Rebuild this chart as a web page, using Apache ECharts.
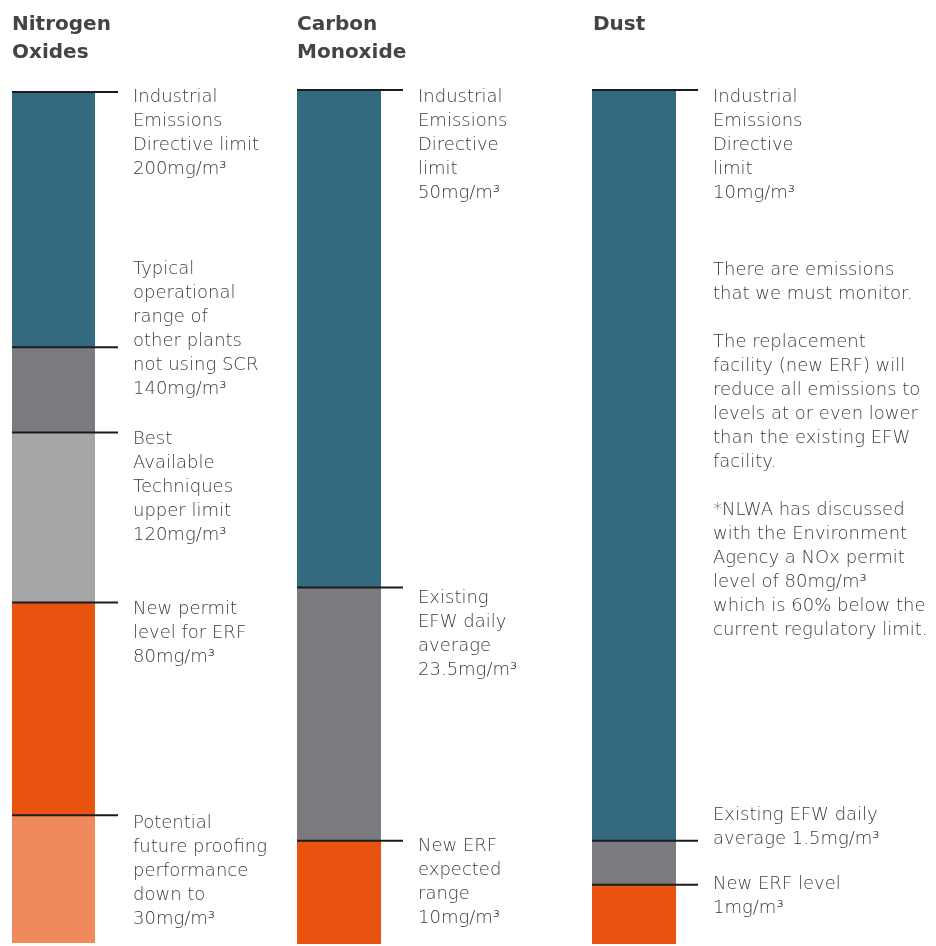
<!DOCTYPE html>
<html>
<head>
<meta charset="utf-8">
<script src="https://cdn.jsdelivr.net/npm/echarts@6/dist/echarts.min.js"></script>
<style>
  html, body { margin: 0; padding: 0; background: #ffffff; }
  #chart { width: 936px; height: 946px; }
</style>
</head>
<body>
<div id="chart"></div>
<script>
// Emission levels (mg/m³), listed from the top of each column downwards.
const noxLevels = [200, 140, 120, 80, 30];
const coLevels = [50, 23.5, 10];
const dustLevels = [10, 1.5, 1];

const noxLabels = [
  'Industrial\nEmissions\nDirective limit\n200mg/m³',
  'Typical\noperational\nrange of\nother plants\nnot using SCR\n140mg/m³',
  'Best\nAvailable\nTechniques\nupper limit\n120mg/m³',
  'New permit\nlevel for ERF\n80mg/m³',
  'Potential\nfuture proofing\nperformance\ndown to\n30mg/m³'
];
const coLabels = [
  'Industrial\nEmissions\nDirective\nlimit\n50mg/m³',
  'Existing\nEFW daily\naverage\n23.5mg/m³',
  'New ERF\nexpected\nrange\n10mg/m³'
];
const dustLabels = [
  'Industrial\nEmissions\nDirective\nlimit\n10mg/m³',
  'Existing EFW daily\naverage 1.5mg/m³',
  'New ERF level\n1mg/m³'
];

const columnTitles = ['Nitrogen\nOxides', 'Carbon\nMonoxide', 'Dust'];

const dustNote =
  'There are emissions\nthat we must monitor.\n\n' +
  'The replacement\nfacility (new ERF) will\nreduce all emissions to\nlevels at or even lower\nthan the existing EFW\nfacility.\n\n' +
  '*NLWA has discussed\nwith the Environment\nAgency a NOx permit\nlevel of 80mg/m³\nwhich is 60% below the\ncurrent regulatory limit.';

// ---- styling ----
const TEAL = '#336a80', DARK_GREY = '#7b7b7f', LIGHT_GREY = '#a6a6a6',
      ORANGE = '#e8540f', LIGHT_ORANGE = '#f08a5c';
const TEXT_COLOR = '#3c3c3c';
const TITLE_COLOR = '#444444';
const FONT = '"DejaVu Sans", "Liberation Sans", sans-serif';
const BODY_FONT = '300 18px ' + FONT;

const columns = [
  { levels: noxLevels, labels: noxLabels, colors: [TEAL, DARK_GREY, LIGHT_GREY, ORANGE, LIGHT_ORANGE],
    labelShift: [-7, -90, -5, -5, -4],
    grid: { left: 12, top: 92, width: 83, height: 851 }, yMin: 0 },
  { levels: coLevels, labels: coLabels, colors: [TEAL, DARK_GREY, ORANGE],
    labelShift: [-5, -1, -6],
    grid: { left: 297, top: 90, width: 84, height: 854 }, yMin: 4.5 },
  { levels: dustLevels, labels: dustLabels, colors: [TEAL, DARK_GREY, ORANGE],
    labelShift: [-5, -37, -13],
    grid: { left: 592, top: 90, width: 84, height: 854 }, yMin: 0.33 }
];

const TICK_LENGTH = 106;   // leader line from bar edge
const LABEL_GAP = 121;     // text start from bar edge

function makeRenderer(col) {
  return function (params, api) {
    const cat = api.value(0);
    const lo = api.value(1);
    const hi = api.value(2);
    const topPt = api.coord([cat, hi]);
    const botPt = api.coord([cat, lo]);
    const w = api.size([1, 0])[0];
    const x0 = topPt[0] - w / 2;
    const cs = params.coordSys;
    const rect = echarts.graphic.clipRectByRect(
      { x: x0, y: topPt[1], width: w, height: botPt[1] - topPt[1] },
      { x: cs.x, y: cs.y, width: cs.width, height: cs.height }
    );
    const i = params.dataIndex;
    const children = [];
    if (rect) {
      children.push({ type: 'rect', shape: rect, style: { fill: col.colors[i] } });
    }
    children.push({
      type: 'line',
      shape: { x1: x0, y1: topPt[1], x2: x0 + TICK_LENGTH, y2: topPt[1] },
      style: { stroke: '#1c1c1c', lineWidth: 2 },
      z2: 10
    });
    children.push({
      type: 'text',
      x: x0 + LABEL_GAP,
      y: topPt[1] + col.labelShift[i],
      style: {
        text: col.labels[i],
        fill: TEXT_COLOR,
        font: BODY_FONT,
        lineHeight: 24,
        verticalAlign: 'top',
        align: 'left'
      }
    });
    return { type: 'group', children: children };
  };
}

const grids = [], xAxes = [], yAxes = [], series = [];
columns.forEach(function (col, k) {
  grids.push(col.grid);
  xAxes.push({ type: 'category', gridIndex: k, data: [columnTitles[k]], show: false });
  yAxes.push({ type: 'value', gridIndex: k, min: col.yMin, max: col.levels[0], show: false });
  const data = col.levels.map(function (hi, i) {
    const lo = i + 1 < col.levels.length ? col.levels[i + 1] : 0;
    return [0, lo, hi];
  });
  series.push({
    type: 'custom',
    xAxisIndex: k,
    yAxisIndex: k,
    clip: false,
    encode: { x: 0, y: [1, 2] },
    data: data,
    renderItem: makeRenderer(col),
    silent: true
  });
});

const titleLefts = [12, 297, 593];
const graphics = columnTitles.map(function (t, k) {
  return {
    type: 'text',
    left: titleLefts[k],
    top: 11,
    style: {
      text: t,
      fill: TITLE_COLOR,
      font: 'bold 20px ' + FONT,
      lineHeight: 28
    }
  };
});
graphics.push({
  type: 'text',
  left: 713,
  top: 258,
  style: {
    text: dustNote,
    fill: TEXT_COLOR,
    font: BODY_FONT,
    lineHeight: 24
  }
});

const chart = echarts.init(document.getElementById('chart'), null, { renderer: 'canvas' });
chart.setOption({
  backgroundColor: '#ffffff',
  animation: false,
  grid: grids,
  xAxis: xAxes,
  yAxis: yAxes,
  series: series,
  graphic: graphics
});
</script>
</body>
</html>
